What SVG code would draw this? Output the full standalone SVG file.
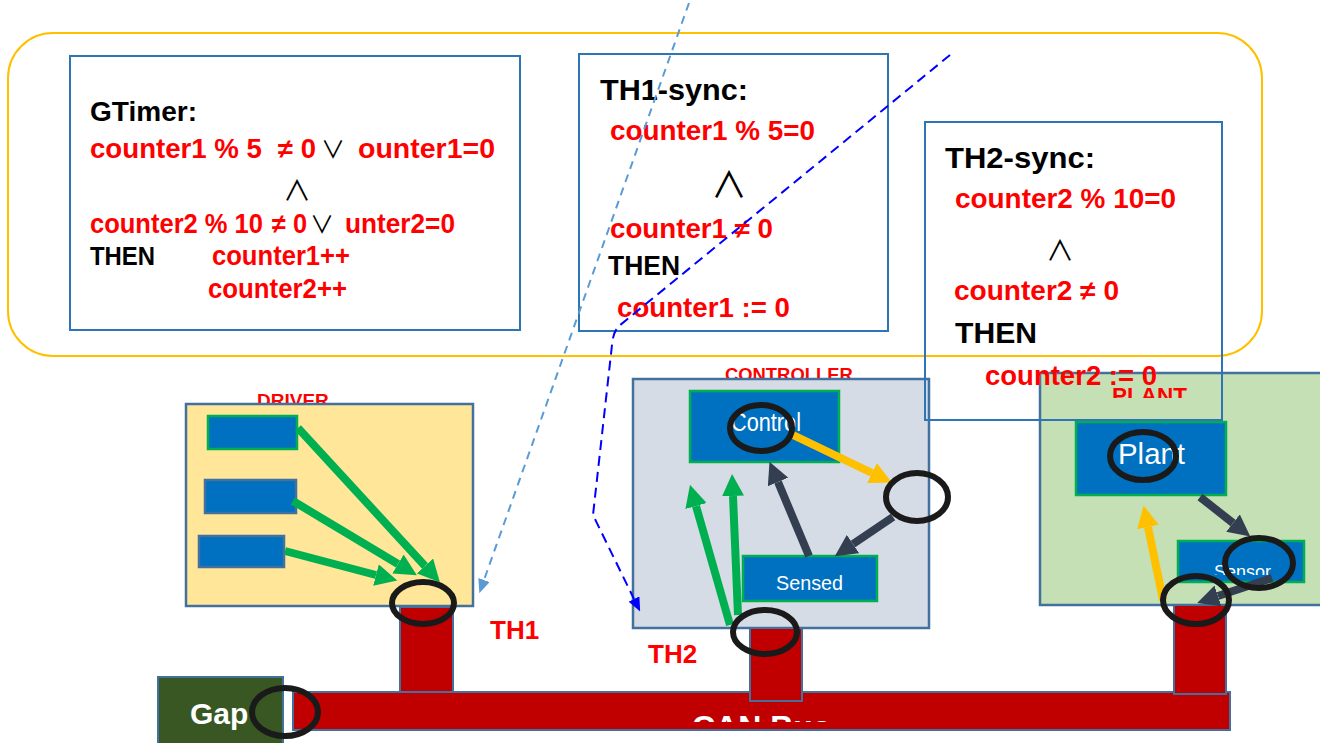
<svg xmlns="http://www.w3.org/2000/svg" width="1320" height="743" viewBox="0 0 1320 743">
<style>
.tb{fill:none;stroke:#2e75b6;stroke-width:2}
.b{font-family:"Liberation Sans",Arial,sans-serif;font-weight:bold}
.r{fill:#ff0000}
.k{fill:#000}
.sym{font-family:"Noto Sans CJK JP","DejaVu Sans",sans-serif;font-weight:normal;fill:#000;text-anchor:middle}
.grp{stroke:#41719c;stroke-width:2.5}
.inner{fill:#0070c0;stroke:#00b050;stroke-width:2.5}
.inner2{fill:#0070c0;stroke:#41719c;stroke-width:2.5}
.ell{fill:none;stroke:#1a1a1a;stroke-width:6}
.sock{fill:#c00000;stroke:#41719c;stroke-width:2}
.arr{fill:none;stroke-width:8}
.w{fill:#fff;font-family:"Liberation Sans",Arial,sans-serif}
.lbl{font-family:"Liberation Sans",Arial,sans-serif;font-weight:bold;fill:#ff0000}
</style>
<defs>
<marker id="mG" markerUnits="userSpaceOnUse" viewBox="0 0 22 22" markerWidth="22" markerHeight="22" refX="0" refY="11" orient="auto"><path d="M0,0 L22,11 L0,22 z" fill="#00b050"/></marker>
<marker id="mY" markerUnits="userSpaceOnUse" viewBox="0 0 22 22" markerWidth="22" markerHeight="22" refX="0" refY="11" orient="auto"><path d="M0,0 L22,11 L0,22 z" fill="#ffc000"/></marker>
<marker id="mD" markerUnits="userSpaceOnUse" viewBox="0 0 22 22" markerWidth="22" markerHeight="22" refX="0" refY="11" orient="auto"><path d="M0,0 L22,11 L0,22 z" fill="#333f50"/></marker>
<marker id="mLB" markerUnits="userSpaceOnUse" viewBox="0 0 14 12" markerWidth="14" markerHeight="12" refX="0" refY="6" orient="auto"><path d="M0,0 L14,6 L0,12 z" fill="#5b9bd5"/></marker>
<marker id="mB" markerUnits="userSpaceOnUse" viewBox="0 0 14 12" markerWidth="14" markerHeight="12" refX="0" refY="6" orient="auto"><path d="M0,0 L14,6 L0,12 z" fill="#0000ff"/></marker>
<clipPath id="cDrv"><rect x="180" y="380" width="220" height="24"/></clipPath>
<clipPath id="cCtl"><rect x="700" y="355" width="180" height="24"/></clipPath>
<clipPath id="cPl"><rect x="1100" y="380" width="110" height="18"/></clipPath>
<clipPath id="cCan"><rect x="650" y="700" width="220" height="22"/></clipPath>
<clipPath id="cSen"><rect x="1180" y="543" width="122" height="32"/></clipPath>
</defs>
<rect width="1320" height="743" fill="#fff"/>

<rect id="timing-region" x="8" y="33" width="1254" height="323" rx="45" ry="45" fill="none" stroke="#ffc000" stroke-width="2"/>

<g id="gtimer">
<rect class="tb" x="70" y="56" width="450" height="274"/>
<text class="b k" x="90" y="121" font-size="27" textLength="107" lengthAdjust="spacingAndGlyphs">GTimer:</text>
<text class="b r" x="90" y="158" font-size="27" textLength="172" lengthAdjust="spacingAndGlyphs">counter1 % 5</text>
<text class="b r" x="278" y="158" font-size="27" textLength="38" lengthAdjust="spacingAndGlyphs">≠ 0</text>
<text class="sym" x="333" y="158" font-size="24">∨</text>
<text class="b r" x="358" y="158" font-size="27" textLength="137" lengthAdjust="spacingAndGlyphs">ounter1=0</text>
<text class="sym" x="297" y="201" font-size="28">∧</text>
<text class="b r" x="90" y="233" font-size="27" textLength="173" lengthAdjust="spacingAndGlyphs">counter2 % 10</text>
<text class="b r" x="272" y="233" font-size="27" textLength="35" lengthAdjust="spacingAndGlyphs">≠ 0</text>
<text class="sym" x="322" y="233" font-size="24">∨</text>
<text class="b r" x="345" y="233" font-size="27" textLength="110" lengthAdjust="spacingAndGlyphs">unter2=0</text>
<text class="b k" x="90" y="265" font-size="26" textLength="65" lengthAdjust="spacingAndGlyphs">THEN</text>
<text class="b r" x="212" y="265" font-size="27" textLength="138" lengthAdjust="spacingAndGlyphs">counter1++</text>
<text class="b r" x="208" y="298" font-size="27" textLength="139" lengthAdjust="spacingAndGlyphs">counter2++</text>
</g>

<g id="th1-sync">
<rect class="tb" x="579" y="54" width="309" height="277"/>
<text class="b k" x="600" y="100" font-size="30" textLength="148" lengthAdjust="spacingAndGlyphs">TH1-sync:</text>
<text class="b r" x="610" y="140" font-size="27" textLength="205" lengthAdjust="spacingAndGlyphs">counter1 % 5=0</text>
<text class="sym" x="729" y="198" font-size="36">∧</text>
<text class="b r" x="610" y="238" font-size="27" textLength="163" lengthAdjust="spacingAndGlyphs">counter1 ≠ 0</text>
<text class="b k" x="608" y="275" font-size="27" textLength="72" lengthAdjust="spacingAndGlyphs">THEN</text>
<text class="b r" x="617" y="317" font-size="27" textLength="173" lengthAdjust="spacingAndGlyphs">counter1 := 0</text>
</g>

<g id="driver">
<text class="lbl" x="257" y="407" font-size="19" clip-path="url(#cDrv)">DRIVER</text>
<rect class="grp" x="186" y="404" width="287" height="202" fill="#ffe699"/>
<rect class="inner" x="208" y="416" width="89" height="33"/>
<rect class="inner2" x="205" y="480" width="91" height="33"/>
<rect class="inner2" x="199" y="536" width="85" height="31"/>
</g>

<g id="controller">
<text class="lbl" x="725" y="381" font-size="18.4" clip-path="url(#cCtl)">CONTROLLER</text>
<rect class="grp" x="633" y="379" width="296" height="249" fill="#d6dce5"/>
<rect class="inner" x="690" y="391" width="149" height="71"/>
<text class="w" x="731" y="431" font-size="25" textLength="70" lengthAdjust="spacingAndGlyphs">Control</text>
<rect class="inner" x="743" y="556" width="134" height="45"/>
<text class="w" x="776" y="590" font-size="21" textLength="67" lengthAdjust="spacingAndGlyphs">Sensed</text>
</g>

<g id="plant">
<rect class="grp" x="1040" y="373" width="290" height="232" fill="#c5e0b4"/>
<text class="lbl" x="1112" y="403" font-size="22.5" clip-path="url(#cPl)">PLANT</text>
<rect class="inner" x="1076" y="422" width="150" height="73"/>
<text class="w" x="1118" y="464" font-size="29" textLength="67" lengthAdjust="spacingAndGlyphs">Plant</text>
<rect class="inner" x="1178" y="541" width="126" height="41"/>
<text class="w" x="1214" y="578" font-size="18" clip-path="url(#cSen)">Sensor</text>
</g>

<g id="can-bus">
<rect class="sock" x="293" y="692" width="937" height="38"/>
<text class="b" fill="#fff" x="692" y="738" font-size="32" clip-path="url(#cCan)">CAN Bus</text>
</g>

<g id="driver-socket"><rect class="sock" x="400" y="607" width="53" height="85"/></g>
<g id="controller-socket"><rect class="sock" x="750" y="628" width="52" height="73"/></g>
<g id="plant-socket"><rect class="sock" x="1174" y="605" width="52" height="89"/></g>

<g id="gap">
<rect x="158" y="677" width="125" height="75" fill="#385723" stroke="#41719c" stroke-width="2"/>
<text class="b" fill="#fff" x="190" y="724" font-size="30">Gap</text>
</g>

<g id="th-labels">
<text class="b r" x="490" y="639" font-size="26">TH1</text>
<text class="b r" x="648" y="663" font-size="26">TH2</text>
</g>

<g id="connectors">
<line class="arr" stroke="#00b050" x1="298" y1="428" x2="425" y2="566" marker-end="url(#mG)"/>
<line class="arr" stroke="#00b050" x1="293" y1="501" x2="398" y2="564" marker-end="url(#mG)"/>
<line class="arr" stroke="#00b050" x1="285" y1="551" x2="376" y2="575" marker-end="url(#mG)"/>
<line class="arr" stroke="#00b050" x1="730" y1="625" x2="696" y2="506" marker-end="url(#mG)"/>
<line class="arr" stroke="#00b050" x1="738" y1="615" x2="733" y2="496" marker-end="url(#mG)"/>
<line class="arr" stroke="#ffc000" x1="793" y1="435" x2="872" y2="473" marker-end="url(#mY)"/>
<line class="arr" stroke="#333f50" x1="893" y1="517" x2="853" y2="544" marker-end="url(#mD)"/>
<line class="arr" stroke="#333f50" x1="809" y1="556" x2="778" y2="482" marker-end="url(#mD)"/>
<line class="arr" stroke="#333f50" x1="1200" y1="497" x2="1233" y2="523" marker-end="url(#mD)"/>
<line class="arr" stroke="#333f50" x1="1272" y1="578" x2="1218" y2="596" marker-end="url(#mD)"/>
<line class="arr" stroke="#ffc000" x1="1163" y1="600" x2="1148" y2="527" marker-end="url(#mY)"/>
</g>

<g id="markers-ellipses">
<ellipse class="ell" cx="423" cy="603" rx="31" ry="21"/>
<ellipse class="ell" cx="285" cy="712" rx="33" ry="24"/>
<ellipse class="ell" cx="761" cy="428" rx="31" ry="23"/>
<ellipse class="ell" cx="917" cy="497" rx="31" ry="24"/>
<ellipse class="ell" cx="765" cy="632" rx="32" ry="22"/>
<ellipse class="ell" cx="1143" cy="456" rx="33" ry="24"/>
<ellipse class="ell" cx="1259" cy="563" rx="34" ry="25"/>
<ellipse class="ell" cx="1196" cy="600" rx="33" ry="24"/>
</g>

<g id="th2-sync">
<rect class="tb" x="925" y="122" width="297" height="298"/>
<text class="b k" x="945" y="168" font-size="30" textLength="150" lengthAdjust="spacingAndGlyphs">TH2-sync:</text>
<text class="b r" x="955" y="208" font-size="27" textLength="221" lengthAdjust="spacingAndGlyphs">counter2 % 10=0</text>
<text class="sym" x="1060" y="261" font-size="28">∧</text>
<text class="b r" x="954" y="300" font-size="27" textLength="165" lengthAdjust="spacingAndGlyphs">counter2 ≠ 0</text>
<text class="b k" x="955" y="343" font-size="30" textLength="82" lengthAdjust="spacingAndGlyphs">THEN</text>
<text class="b r" x="985" y="385" font-size="27" textLength="172" lengthAdjust="spacingAndGlyphs">counter2 := 0</text>
</g>

<g id="sync-connectors">
<line x1="689" y1="3" x2="484" y2="580" fill="none" stroke="#5b9bd5" stroke-width="2" stroke-dasharray="8 6" marker-end="url(#mLB)"/>
<path d="M950,55 L619,326 Q613,332 612,345 L593,515 L634,599" fill="none" stroke="#0000ff" stroke-width="2" stroke-dasharray="10 6" marker-end="url(#mB)"/>
</g>
</svg>
